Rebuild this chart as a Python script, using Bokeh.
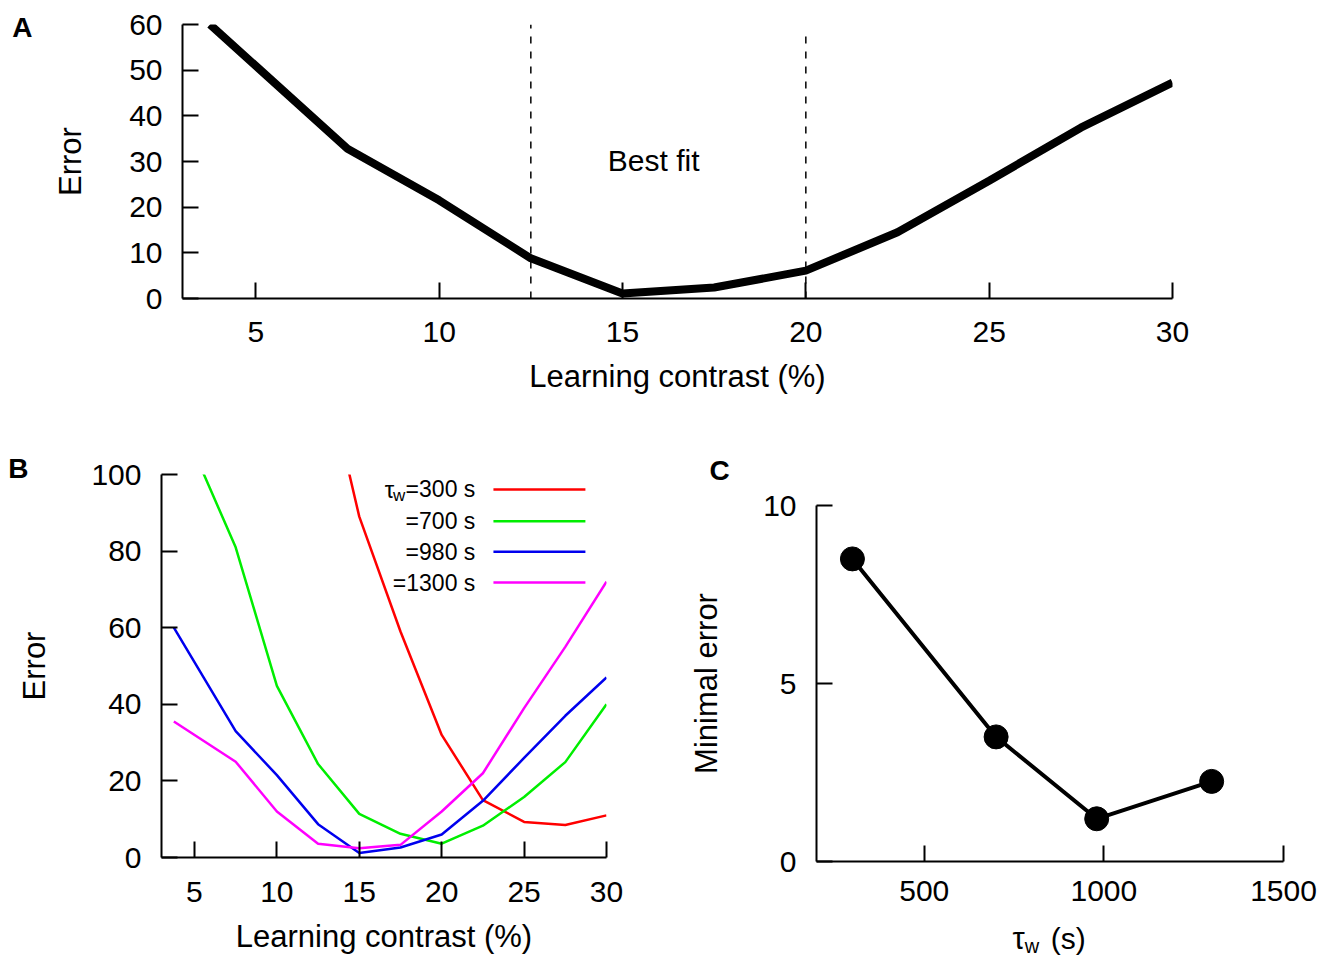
from bokeh.plotting import figure
from bokeh.models import Range1d, Label, FixedTicker
from bokeh.layouts import column, row
from bokeh.embed import file_html
from bokeh.resources import INLINE

# ---------------- data ----------------
contrast = [3.75, 7.5, 10, 12.5, 15, 17.5, 20, 22.5, 25, 27.5, 30]
err_best = [60, 32.8, 21.5, 8.8, 1.1, 2.4, 6.1, 14.5, 25.8, 37.4, 47.3]
best_fit_bounds = [12.5, 20]
best_fit_tops = [60, 58]

contrast_300 = [12.5, 15, 17.5, 20, 22.5, 25, 27.5, 30]
err_300 = [135, 89, 59, 32, 15, 9.3, 8.5, 11]
err_700 = [118, 81, 44.8, 24.4, 11.4, 6.2, 3.6, 8.3, 15.8, 24.9, 40]
err_980 = [60, 33, 21.5, 8.7, 1.2, 2.6, 6.0, 14.8, 26, 37, 47]
err_1300 = [35.5, 25, 12, 3.6, 2.4, 3.3, 12, 22, 39, 55, 72]
legend_labels = ["=300 s", "=700 s", "=980 s", "=1300 s"]
series_colors = ["#ff0000", "#00ee00", "#0000ee", "#ff00ff"]

tau_w = [300, 700, 980, 1300]
min_err = [8.5, 3.5, 1.2, 2.25]

A_xticks = [5, 10, 15, 20, 25, 30]
A_yticks = [0, 10, 20, 30, 40, 50, 60]
B_yticks = [0, 20, 40, 60, 80, 100]
C_xticks = [500, 1000, 1500]
C_yticks = [0, 5, 10]

FONT = "Liberation Sans"
TICK_PT = "30px"
LAB_PT = "31px"
LETTER_PT = "28px"


def style(p, xticks, yticks, ylab_standoff, xlab_standoff, xtick_standoff):
    p.outline_line_color = None
    p.xgrid.visible = False
    p.ygrid.visible = False
    p.background_fill_color = "white"
    p.border_fill_color = "white"
    for ax in (p.xaxis[0], p.yaxis[0]):
        ax.axis_line_width = 2
        ax.axis_line_color = "black"
        ax.major_tick_line_width = 2
        ax.major_tick_line_color = "black"
        ax.major_tick_in = 16
        ax.major_tick_out = 0
        ax.minor_tick_line_color = None
        ax.major_label_text_font = FONT
        ax.major_label_text_font_size = TICK_PT
        ax.major_label_text_color = "black"
        ax.axis_label_text_font = FONT
        ax.axis_label_text_font_size = LAB_PT
        ax.axis_label_text_font_style = "normal"
        ax.axis_label_text_color = "black"
    p.xaxis[0].ticker = FixedTicker(ticks=xticks)
    p.yaxis[0].ticker = FixedTicker(ticks=yticks)
    p.xaxis[0].major_label_standoff = xtick_standoff
    p.yaxis[0].major_label_standoff = 20
    p.yaxis[0].axis_label_standoff = ylab_standoff
    p.xaxis[0].axis_label_standoff = xlab_standoff


def txt(x, y, text, size, align="left", bold=False, **kw):
    return Label(x=x, y=y, text=text, text_font=FONT, text_font_size=size,
                 text_font_style="bold" if bold else "normal", text_color="black",
                 text_align=align, text_baseline="middle", **kw)


# ---------------- panel A ----------------
pA = figure(width=1331, height=418, x_range=Range1d(3, 30), y_range=Range1d(0, 60),
            output_backend="svg", toolbar_location=None,
            min_border_left=182, min_border_right=159, min_border_top=24, min_border_bottom=120,
            x_axis_label="Learning contrast (%)", y_axis_label="Error")
style(pA, A_xticks, A_yticks, 38, 14, 23)
for xb, yt in zip(best_fit_bounds, best_fit_tops):
    pA.line([xb, xb], [0, yt], line_color="black", line_width=1.5, line_dash="7 8")
pA.line(contrast, err_best, line_color="black", line_width=8)
pA.add_layout(txt(15.85, 30.2, "Best fit", "30px", align="center"))
pA.add_layout(txt(-1.64, 59.4, "A", LETTER_PT, bold=True), "left")

# ---------------- panel B ----------------
pB = figure(width=658, height=538, x_range=Range1d(3, 30), y_range=Range1d(0, 100),
            output_backend="svg", toolbar_location=None,
            min_border_left=161, min_border_right=52, min_border_top=56, min_border_bottom=96,
            x_axis_label="Learning contrast (%)", y_axis_label="Error")
style(pB, A_xticks, B_yticks, 36, 14, 24)
pB.line(contrast_300, err_300, line_color=series_colors[0], line_width=2.5)
pB.line(contrast, err_700, line_color=series_colors[1], line_width=2.5)
pB.line(contrast, err_980, line_color=series_colors[2], line_width=2.5)
pB.line(contrast, err_1300, line_color=series_colors[3], line_width=2.5)

leg_y = [96.1, 87.8, 79.8, 71.8]
for lab, col, ly in zip(legend_labels, series_colors, leg_y):
    pB.add_layout(txt(22.04, ly, lab, "23px", align="right"))
    pB.line([23.14, 28.72], [ly, ly], line_color=col, line_width=2.5)
pB.add_layout(txt(22.04, leg_y[0], "w", "17px", align="right", x_offset=-70, y_offset=-6))
pB.add_layout(txt(22.04, leg_y[0], "τ", "24px", align="right", x_offset=-81))
pB.add_layout(txt(-6.3, 101.5, "B", LETTER_PT, bold=True), "above")

# ---------------- panel C ----------------
pC = figure(width=673, height=538, x_range=Range1d(200, 1500), y_range=Range1d(0, 10),
            output_backend="svg", toolbar_location=None,
            min_border_left=158, min_border_right=48, min_border_top=87, min_border_bottom=95,
            y_axis_label="Minimal error")
style(pC, C_xticks, C_yticks, 36, 10, 19)
pC.line(tau_w, min_err, line_color="black", line_width=4)
pC.scatter(tau_w, min_err, size=24, fill_color="black", line_color="black")
pC.add_layout(txt(780, -2.17, "τ", "31px", align="right"), "left")
pC.add_layout(txt(780, -2.36, "w", "20px", align="left"), "below")
pC.add_layout(txt(852, -2.17, "(s)", "30px", align="left"), "right")
pC.add_layout(txt(-98, 10.99, "C", LETTER_PT, bold=True), "above")

layout = column(pA, row(column(pB), column(pC)))
open("out.html", "w").write(file_html(layout, INLINE))
